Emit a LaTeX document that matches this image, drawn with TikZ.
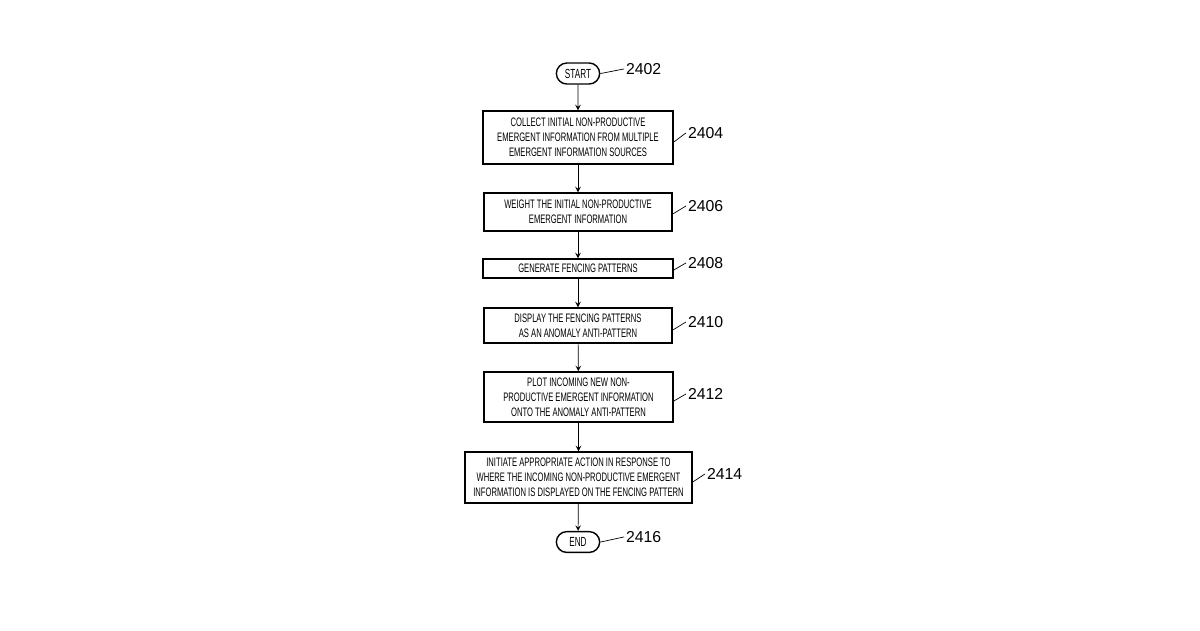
\documentclass[tikz,border=0pt]{standalone}
\usepackage{fontspec}
\setmainfont{Liberation Sans}
\newfontfamily\narrow[FakeStretch=0.62]{Liberation Sans}
\usetikzlibrary{positioning,shapes.misc}
\tikzset{
  stage/.style={draw,thick,align=center,font=\narrow\fontsize{7}{8.6}\selectfont,inner sep=2pt},
  term/.style={draw,thick,rounded rectangle,minimum width=1.1cm,minimum height=0.38cm,font=\narrow\fontsize{7.5}{9}\selectfont},
  tag/.style={font=\fontsize{9}{10}\selectfont,anchor=west,inner sep=1pt},
  flow/.style={->,>=stealth,thin}
}
\newcommand{\lead}[2]{% squiggle from box east to label
  \draw (#1) .. controls +(0.12,0.16) and +(-0.12,-0.16) .. (#2.west);}
\begin{document}
\begin{tikzpicture}[x=0.02cm,y=-0.02cm]
\useasboundingbox (0,0) rectangle (1200,630);

% the steps
\node[term] (start) at (578,73.5) {START};
\node[stage,minimum width=3.8cm,minimum height=1.06cm] (s4) at (578,137.5) {COLLECT INITIAL NON-PRODUCTIVE\\EMERGENT INFORMATION FROM MULTIPLE\\EMERGENT INFORMATION SOURCES};
\node[stage,minimum width=3.76cm,minimum height=0.76cm] (s6) at (578,212) {WEIGHT THE INITIAL NON-PRODUCTIVE\\EMERGENT INFORMATION};
\node[stage,minimum width=3.8cm,minimum height=0.38cm] (s8) at (578,268.5) {GENERATE FENCING PATTERNS};
\node[stage,minimum width=3.76cm,minimum height=0.7cm] (s10) at (578,325.5) {DISPLAY THE FENCING PATTERNS\\AS AN ANOMALY ANTI-PATTERN};
\node[stage,minimum width=3.78cm,minimum height=1.0cm] (s12) at (578.5,397) {PLOT INCOMING NEW NON-\\PRODUCTIVE EMERGENT INFORMATION\\ONTO THE ANOMALY ANTI-PATTERN};
\node[stage,minimum width=4.54cm,minimum height=1.02cm] (s14) at (578.5,477.5) {INITIATE APPROPRIATE ACTION IN RESPONSE TO\\WHERE THE INCOMING NON-PRODUCTIVE EMERGENT\\INFORMATION IS DISPLAYED ON THE FENCING PATTERN};
\node[term] (end) at (578,542) {END};

\foreach \a/\b in {start/s4,s4/s6,s6/s8,s8/s10,s10/s12,s12/s14,s14/end}
  \draw[flow] (\a) -- (\b);

% reference numerals
\node[tag] (t2) at (624,69) {2402};
\node[tag] (t4) at (686,133) {2404};
\node[tag] (t6) at (686,206) {2406};
\node[tag] (t8) at (686,263) {2408};
\node[tag] (t10) at (686,322) {2410};
\node[tag] (t12) at (686,394) {2412};
\node[tag] (t14) at (705,474) {2414};
\node[tag] (t16) at (624,537) {2416};
\lead{start.east}{t2}
\lead{s4.east |- 0,142}{t4}
\lead{s6.east |- 0,214}{t6}
\lead{s8.east |- 0,270}{t8}
\lead{s10.east |- 0,330}{t10}
\lead{s12.east |- 0,401}{t12}
\lead{s14.east |- 0,482}{t14}
\lead{end.east}{t16}
\end{tikzpicture}
\end{document}
